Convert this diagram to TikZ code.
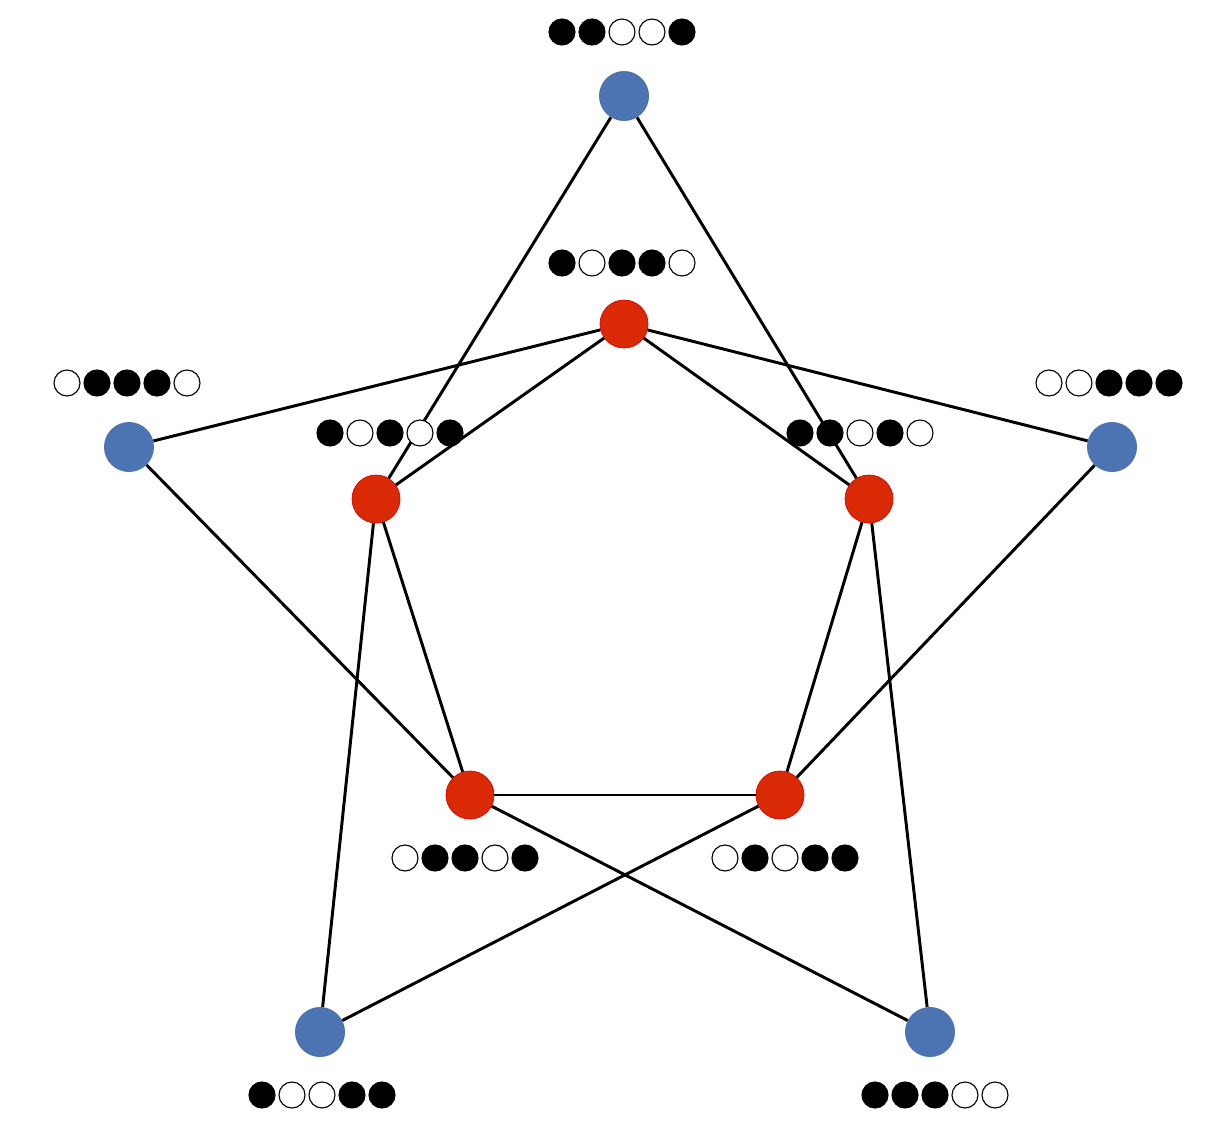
\documentclass[tikz,border=0pt]{standalone}
\definecolor{bnode}{HTML}{4C73B2}
\definecolor{rnode}{HTML}{DA2A05}
\definecolor{redge}{HTML}{E00000}
\newcommand\beadrow[3]{%
  \foreach \f [count=\i] in {#3}{%
    \draw[line width=1.6pt,fill=\f] ({#1+30*(\i-1)},#2) circle[radius=0.65cm];}}
\begin{document}
\begin{tikzpicture}[x=0.05cm,y=-0.05cm,
  blue/.style={circle,fill=bnode,minimum size=2.5cm,inner sep=0pt},
  rednode/.style={circle,fill=rnode,draw=redge,line width=1pt,minimum size=2.4cm,inner sep=0pt},
  edge/.style={line width=4.2pt}]
\useasboundingbox (0,0) rectangle (1229,1121);
\fill[white] (0,0) rectangle (1229,1121);
\node[blue] (bt) at (624,96) {};
\node[blue] (bl) at (129,447) {};
\node[blue] (br) at (1112,447) {};
\node[blue] (bbl) at (320,1032) {};
\node[blue] (bbr) at (930,1032) {};
\node[rednode] (rt) at (624,324) {};
\node[rednode] (rl) at (376,499) {};
\node[rednode] (rr) at (869,499) {};
\node[rednode] (rbl) at (470,795) {};
\node[rednode] (rbr) at (780,795) {};
\begin{scope}[on background layer/.style={}]
\draw[edge] (bt) -- (rl); \draw[edge] (bt) -- (rr);
\draw[edge] (rt) -- (bl); \draw[edge] (rt) -- (br);
\draw[edge] (rt) -- (rl); \draw[edge] (rt) -- (rr);
\draw[edge] (rl) -- (rbl); \draw[edge] (rr) -- (rbr);
\draw[edge] (rbl) -- (rbr);
\draw[edge] (bl) -- (rbl); \draw[edge] (br) -- (rbr);
\draw[edge] (rl) -- (bbl); \draw[edge] (rr) -- (bbr);
\draw[edge] (rbl) -- (bbr); \draw[edge] (rbr) -- (bbl);
\end{scope}
\beadrow{562}{32}{black,black,white,white,black}
\beadrow{562}{263}{black,white,black,black,white}
\beadrow{67}{383}{white,black,black,black,white}
\beadrow{1049}{383}{white,white,black,black,black}
\beadrow{330}{433}{black,white,black,white,black}
\beadrow{800}{433}{black,black,white,black,white}
\beadrow{405}{858}{white,black,black,white,black}
\beadrow{725}{858}{white,black,white,black,black}
\beadrow{262}{1095}{black,white,white,black,black}
\beadrow{875}{1095}{black,black,black,white,white}
\end{tikzpicture}
\end{document}
